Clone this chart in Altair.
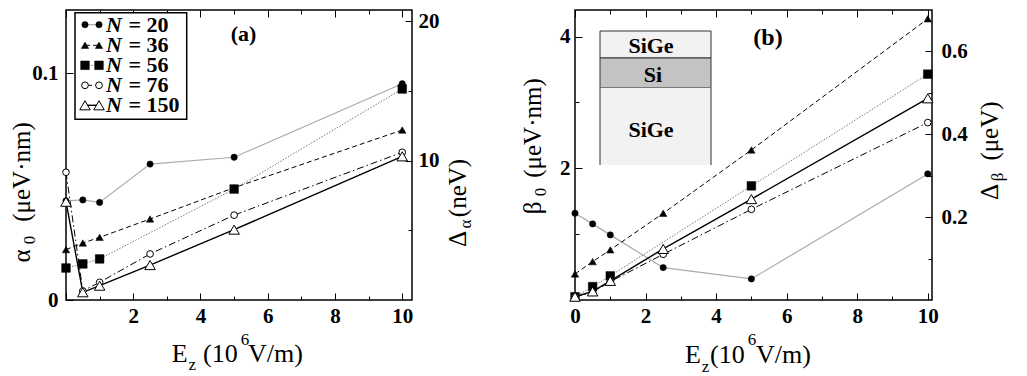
import altair as alt
import pandas as pd

# ---------------- data ----------------
E_FIELD = [0, 0.5, 1, 2.5, 5, 10]
E_FIELD_N56 = [0, 0.5, 1, 5, 10]
SERIES = ["20", "36", "56", "76", "150"]

ALPHA0_N20 = [0.0437, 0.0441, 0.0430, 0.0599, 0.0629, 0.0953]
ALPHA0_N36 = [0.0222, 0.0251, 0.0276, 0.0357, 0.0495, 0.0749]
ALPHA0_N56 = [0.0141, 0.0159, 0.0181, 0.0489, 0.0930]
ALPHA0_N76 = [0.0563, 0.0040, 0.0078, 0.0203, 0.0374, 0.0651]
ALPHA0_N150 = [0.0433, 0.0034, 0.0063, 0.0154, 0.0310, 0.0633]

BETA0_N20 = [1.317, 1.156, 0.989, 0.492, 0.320, 1.915]
BETA0_N36 = [0.396, 0.583, 0.761, 1.317, 2.279, 4.27]
BETA0_N56 = [0.050, 0.203, 0.366, 1.733, 3.43]
BETA0_N76 = [0.045, 0.117, 0.279, 0.694, 1.377, 2.694]
BETA0_N150 = [0.050, 0.130, 0.290, 0.776, 1.532, 3.063]

X_OF = {"20": E_FIELD, "36": E_FIELD, "56": E_FIELD_N56, "76": E_FIELD, "150": E_FIELD}
ALPHA = {"20": ALPHA0_N20, "36": ALPHA0_N36, "56": ALPHA0_N56, "76": ALPHA0_N76, "150": ALPHA0_N150}
BETA = {"20": BETA0_N20, "36": BETA0_N36, "56": BETA0_N56, "76": BETA0_N76, "150": BETA0_N150}

# ---------------- styles ----------------
FONT = "Liberation Serif"
LINE = {
    "20": dict(color="#ababab", strokeWidth=1.2),
    "36": dict(color="black", strokeWidth=1, strokeDash=[5, 3]),
    "56": dict(color="#7a7a7a", strokeWidth=1, strokeDash=[1.5, 1.5]),
    "76": dict(color="black", strokeWidth=1, strokeDash=[7, 3, 1.5, 3]),
    "150": dict(color="black", strokeWidth=1.4),
}
POINT = {
    "20": dict(shape="circle", filled=True, fill="black", stroke="black", size=40, strokeWidth=0.5),
    "36": dict(shape="triangle-up", filled=True, fill="black", stroke="black", size=55, strokeWidth=0.5),
    "56": dict(shape="square", filled=True, fill="black", stroke="black", size=75, strokeWidth=0.5),
    "76": dict(shape="circle", filled=True, fill="white", stroke="black", size=45, strokeWidth=1),
    "150": dict(shape="triangle-up", filled=True, fill="white", stroke="black", size=110, strokeWidth=1),
}

W_A, W_B, H = 346, 357, 290
TF = 25  # axis-title font size


def sc(dom):
    return alt.Scale(domain=dom, nice=False, zero=False)


def axis(orient, values, size, labels=False, pad=0, expr=None):
    kw = dict(orient=orient, values=values, offset=-size, tickSize=size, tickWidth=1,
              tickColor="black", domain=False, grid=False, title=None, labels=labels)
    if labels:
        kw.update(labelFont=FONT, labelFontSize=21, labelFontWeight="bold", labelColor="black",
                  labelPadding=pad, labelOverlap=False, labelFlush=False)
        if expr:
            kw["labelExpr"] = expr
    return alt.Axis(**kw)


def tick_layers(xdom, ldom, rdom, cfg):
    dummy = pd.DataFrame({"x": [xdom[0]], "y": [0.0]})

    def lay(xa, ydom, ya):
        return alt.Chart(dummy).mark_point(opacity=0).encode(
            x=alt.X("x:Q", scale=sc(xdom), axis=xa),
            y=alt.Y("y:Q", scale=sc(ydom), axis=ya))

    layers = [
        lay(axis("bottom", cfg["xmaj"], 7, True, 5, cfg["xexpr"]), ldom,
            axis("left", cfg["lmaj"], 7, True, cfg["lpad"], cfg["lexpr"])),
        lay(axis("top", cfg["xmaj"], 7), rdom,
            axis("right", cfg["rmaj"], 7, True, cfg["rpad"], cfg["rexpr"])),
        lay(axis("bottom", cfg["xmin"], 4), ldom,
            axis("left", cfg["lmin"], 4) if cfg["lmin"] else None),
        lay(axis("top", cfg["xmin"], 4), rdom, axis("right", cfg["rmin"], 4)),
    ]
    return layers


def data_layers(values, xdom, ydom):
    lines, pts = [], []
    for s in SERIES:
        d = pd.DataFrame({"E": X_OF[s], "v": values[s]})
        enc = dict(x=alt.X("E:Q", scale=sc(xdom), axis=None),
                   y=alt.Y("v:Q", scale=sc(ydom), axis=None))
        lines.append(alt.Chart(d).mark_line(**LINE[s]).encode(order="E:Q", **enc))
        pts.append(alt.Chart(d).mark_point(opacity=1, **POINT[s]).encode(**enc))
    return lines + pts


def texts(rows, weight="normal", style="normal", align="left", baseline="alphabetic", angle=0):
    df = pd.DataFrame(rows, columns=["t", "px", "py", "fs"])
    return alt.Chart(df).mark_text(font=FONT, fontWeight=weight, fontStyle=style, align=align,
                                   baseline=baseline, angle=angle, color="black").encode(
        x=alt.X("px:Q", scale=None, axis=None),
        y=alt.Y("py:Q", scale=None, axis=None),
        text="t:N",
        size=alt.Size("fs:Q", scale=None, legend=None))


def box(x1, x2, y1, y2, **kw):
    d = pd.DataFrame({"x1": [x1], "x2": [x2], "y1": [y1], "y2": [y2]})
    return alt.Chart(d).mark_rect(**kw).encode(
        x=alt.X("x1:Q", scale=None, axis=None), x2="x2:Q",
        y=alt.Y("y1:Q", scale=None, axis=None), y2="y2:Q")


def vrule(x, y1, y2, **kw):
    d = pd.DataFrame({"a": [0]})
    return alt.Chart(d).mark_rule(**kw).encode(x=alt.value(x), y=alt.value(y1), y2=alt.value(y2))


# ---------------- panel (a) ----------------
XDOM_A = [0, 10.29]
LDOM_A = [0, 0.1278]
RDOM_A = [0, 20.8]
cfg_a = dict(xmaj=[0, 2, 4, 6, 8, 10], xmin=[1, 3, 5, 7, 9],
             xexpr="datum.value > 0 ? format(datum.value, 'd') : ''",
             lmaj=[0, 0.1], lmin=[],
             lexpr="datum.value == 0 ? '0' : format(datum.value, '.1f')", lpad=8,
             rmaj=[10, 20], rmin=[5, 15], rexpr="format(datum.value, 'd')", rpad=6)

# legend (pixel layout inside the plot)
LEG_SYM_Y = [14.7, 35.3, 55.3, 75.3, 95.3]
LEG_TXT_Y = [22, 42, 62, 82, 102]
legend_layers = [box(9, 120.7, 2.7, 109.3, fill="white", stroke="black", strokeWidth=1.5)]
for i, s in enumerate(SERIES):
    legend_layers.append(
        alt.Chart(pd.DataFrame({"a": [0]})).mark_rule(**LINE[s]).encode(
            x=alt.value(19), x2=alt.value(33), y=alt.value(LEG_SYM_Y[i])))
    legend_layers.append(
        alt.Chart(pd.DataFrame({"lx": [19, 33]})).mark_point(opacity=1, **POINT[s]).encode(
            x=alt.X("lx:Q", scale=None, axis=None), y=alt.value(LEG_SYM_Y[i])))
legend_layers.append(texts([("N", 40, LEG_TXT_Y[i], 22) for i in range(5)],
                           weight="bold", style="italic"))
legend_layers.append(texts([("= " + s, 62.5, LEG_TXT_Y[i], 22) for i, s in enumerate(SERIES)],
                           weight="bold"))

text_a = [
    texts([("E", 105.7, 352, 26), ("(10", 137, 352, 26), ("V/m)", 182, 352, 26),
           ("z", 122.5, 360, 17), ("6", 174.7, 335, 17)]),
    texts([("α", -36, 246, TF), ("(μeV·nm)", -36, 162, TF), ("0", -31, 230, 17)],
          align="center", angle=270),
    texts([("Δ", 400, 229, TF), ("(neV)", 400, 178, TF), ("α", 405, 214, 17)],
          align="center", angle=270),
    texts([("(a)", 177.5, 31.3, 22)], weight="bold", align="center"),
]

panel_a = alt.layer(
    *tick_layers(XDOM_A, LDOM_A, RDOM_A, cfg_a),
    *data_layers(ALPHA, XDOM_A, LDOM_A),
    *legend_layers,
    *text_a,
).resolve_scale(x="independent", y="independent").resolve_axis(
    x="independent", y="independent").properties(width=W_A, height=H)

# ---------------- panel (b) ----------------
XDOM_B = [0, 10.12]
LDOM_B = [0, 4.404]
RDOM_B = [0, 0.699]
cfg_b = dict(xmaj=[0, 2, 4, 6, 8, 10], xmin=[1, 3, 5, 7, 9],
             xexpr="format(datum.value, 'd')",
             lmaj=[2, 4], lmin=[1, 3], lexpr="format(datum.value, 'd')", lpad=5,
             rmaj=[0.2, 0.4, 0.6], rmin=[0.1, 0.3, 0.5],
             rexpr="format(datum.value, '.1f')", rpad=9)

inset = [
    box(25, 136, 21, 48, fill="#f2f2f2", stroke="#333333", strokeWidth=1),
    box(25, 136, 48, 77.7, fill="#c3c3c3", stroke="#333333", strokeWidth=1),
    box(25, 136, 77.7, 155, fill="#f2f2f2"),
    vrule(25, 77.7, 155, color="#333333", strokeWidth=1),
    vrule(136, 77.7, 155, color="#333333", strokeWidth=1),
    texts([("SiGe", 76, 43, 22), ("Si", 78, 72, 22), ("SiGe", 76, 127, 22)],
          weight="bold", align="center"),
]

text_b = [
    texts([("E", 110, 353, 26), ("(10", 135, 353, 26), ("V/m)", 181, 353, 26),
           ("z", 126.7, 362, 17), ("6", 172.7, 335, 17)]),
    texts([("β", -34, 198, TF), ("(μeV·nm)", -34, 118, TF), ("0", -29, 182, 17)],
          align="center", angle=270),
    texts([("Δ", 423, 182, TF), ("(μeV)", 423, 121, TF), ("β", 428, 167, 17)],
          align="center", angle=270),
    texts([("(b)", 193, 35, 24)], weight="bold", align="center"),
]

panel_b = alt.layer(
    *tick_layers(XDOM_B, LDOM_B, RDOM_B, cfg_b),
    *inset,
    *data_layers(BETA, XDOM_B, LDOM_B),
    *text_b,
).resolve_scale(x="independent", y="independent").resolve_axis(
    x="independent", y="independent").properties(width=W_B, height=H)

chart = alt.hconcat(panel_a, panel_b, spacing=163, bounds="flush").properties(
    padding={"left": 1, "top": 0, "right": 2, "bottom": 0}
).configure_view(stroke="black", strokeWidth=1.5)

chart.save("out.html", embed_options={"renderer": "svg", "actions": False})
